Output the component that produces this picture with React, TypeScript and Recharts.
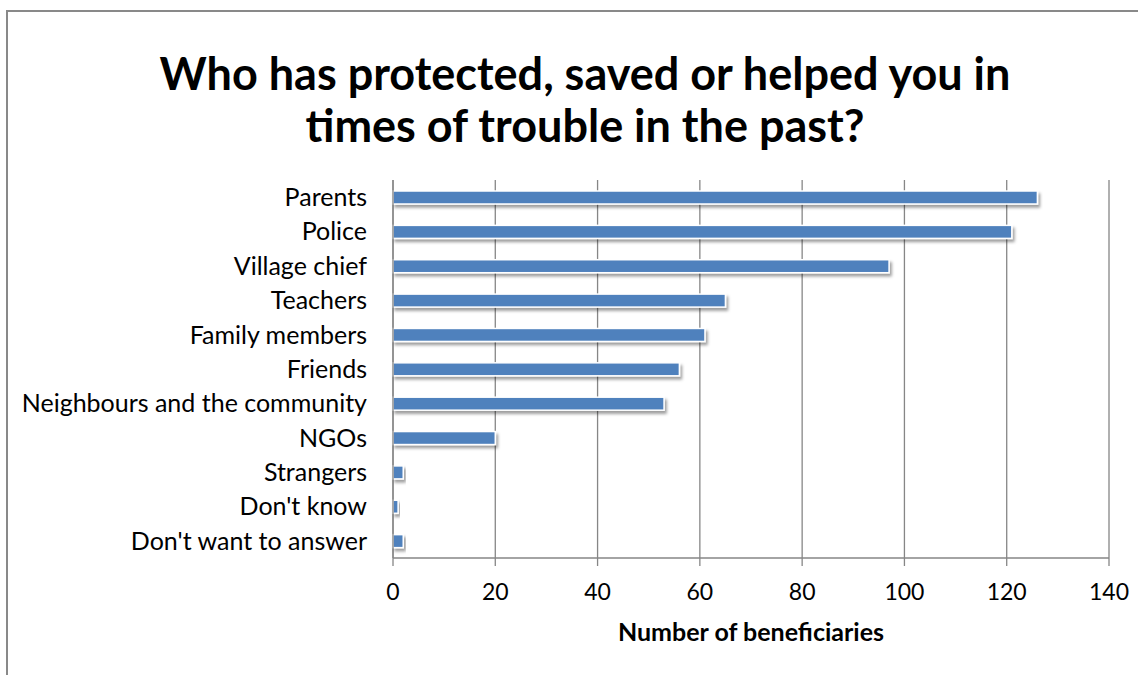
import React from "react";
import { BarChart, Bar, XAxis, YAxis, CartesianGrid } from "recharts";

const categories = [
  "Parents",
  "Police",
  "Village chief",
  "Teachers",
  "Family members",
  "Friends",
  "Neighbours and the community",
  "NGOs",
  "Strangers",
  "Don't know",
  "Don't want to answer",
];
const beneficiaries = [126, 121, 97, 65, 61, 56, 53, 20, 2, 1, 2];
const xTicks = [0, 20, 40, 60, 80, 100, 120, 140];

const data = categories.map((name, i) => ({ name, value: beneficiaries[i] }));

const FONT = "Lato, 'DejaVu Sans', sans-serif";

const ShadowBar = (props: any) => {
  const { x, y, width, height } = props;
  if (width == null || height == null) return null;
  return (
    <g>
      <defs>
        <filter id="barShadow" x="-20%" y="-50%" width="140%" height="250%">
          <feDropShadow dx="2" dy="3" stdDeviation="1.8" floodColor="#000" floodOpacity="0.38" />
        </filter>
      </defs>
      <rect
        x={x}
        y={y}
        width={Math.max(width, 0)}
        height={height}
        fill="#4F81BD"
        stroke="#FFFFFF"
        strokeWidth={1.5}
        filter="url(#barShadow)"
      />
    </g>
  );
};

export default function App() {
  return (
    <div
      style={{
        position: "fixed",
        left: 0,
        top: 0,
        width: 1144,
        height: 675,
        overflow: "hidden",
        background: "#fff",
        fontFamily: FONT,
      }}
    >
      <svg
        width={1144}
        height={675}
        style={{ position: "absolute", left: 0, top: 0 }}
      >
        <polyline
          points="7,680 7,11 1138,11"
          fill="none"
          stroke="#898989"
          strokeWidth={2}
        />
      </svg>
      <div
        style={{
          position: "absolute",
          left: 0,
          top: 47,
          width: 1144,
          paddingLeft: 26,
          boxSizing: "border-box",
          textAlign: "center",
          fontWeight: 700,
          fontSize: 45,
          lineHeight: "52px",
          color: "#000",
          whiteSpace: "nowrap",
        }}
      >
        Who has protected, saved or helped you in
        <br />
        times of trouble in the past?
      </div>
      <div style={{ position: "absolute", left: 0, top: 0 }}>
        <BarChart
          width={1144}
          height={675}
          data={data}
          layout="vertical"
          margin={{ top: 180, right: 35, bottom: 0, left: 0 }}
        >
          <CartesianGrid
            horizontal={false}
            vertical={true}
            stroke="#868686"
            strokeWidth={1.3}
          />
          <XAxis
            type="number"
            domain={[0, 140]}
            ticks={xTicks}
            interval={0}
            axisLine={{ stroke: "#868686", strokeWidth: 1.3 }}
            tickLine={{ stroke: "#868686", strokeWidth: 1.3 }}
            tickSize={8}
            tickMargin={18}
            tick={{ fill: "#000", fontSize: 23, fontFamily: FONT }}
            height={117}
            label={{
              value: "Number of beneficiaries",
              position: "insideTop",
              offset: 65,
              fill: "#000",
              fontSize: 25,
              fontWeight: 700,
              fontFamily: FONT,
            }}
          />
          <YAxis
            type="category"
            dataKey="name"
            width={393}
            interval={0}
            axisLine={{ stroke: "#868686", strokeWidth: 1.3 }}
            tickLine={false}
            tickSize={0}
            tickMargin={26}
            tick={{ fill: "#000", fontSize: 25, fontFamily: FONT }}
          />
          <Bar
            dataKey="value"
            barSize={13}
            isAnimationActive={false}
            shape={ShadowBar}
          />
        </BarChart>
      </div>
    </div>
  );
}
